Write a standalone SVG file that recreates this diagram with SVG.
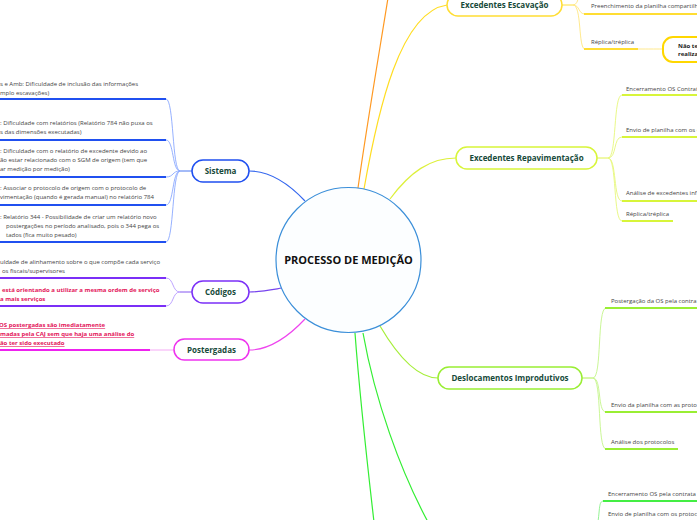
<svg xmlns="http://www.w3.org/2000/svg" width="697" height="520" viewBox="0 0 697 520">
<style>
.t{font-family:"Open Sans","Noto Sans",sans-serif;font-size:6px;fill:#444}
.r{font-family:"Open Sans","Noto Sans",sans-serif;font-size:6px;font-weight:bold;fill:#e3165b}
.ru{text-decoration:underline}
.n{font-family:"Open Sans","Noto Sans",sans-serif;font-size:8px;font-weight:bold;fill:#174a3a;text-anchor:middle}
.nb{fill:#fff;stroke-width:1.5}
.c{fill:none;stroke-width:1.2}
.cl{fill:none;stroke-width:0.9}
.u{fill:none;stroke-width:1.8}
</style>
<rect width="697" height="520" fill="#fff"/>
<g id="connectors">
  <!-- main branches -->
  <path class="c" stroke="#ff9922" stroke-width="1.6" d="M358,188 C366,130 378,60 388,-2"/>
  <path class="c" stroke="#ffdd22" d="M364,189 C378,110 400,12 447,5"/>
  <path class="c" stroke="#ddf03a" d="M390,199 C410,172 430,158 456,158"/>
  <path class="c" stroke="#a6ee3a" d="M380,326 C400,360 420,378 438,378"/>
  <path class="c" stroke="#33ee33" stroke-width="1.8" d="M355,333 C360,400 368,470 374,522"/>
  <path class="c" stroke="#33ee33" stroke-width="1.8" d="M363,333 C375,400 400,470 428,522"/>
  <path class="c" stroke="#3366ee" d="M305,201 C290,185 270,171 249,171"/>
  <path class="c" stroke="#7744ee" d="M282,288 C270,290 260,292 249,292"/>
  <path class="c" stroke="#ee44ee" d="M305,319 C290,335 270,350 249,350"/>
  <!-- Sistema children -->
  <path class="cl" stroke="#3366ee" d="M192,171 L180,171"/>
  <g stroke="#8aa8ff" class="cl">
    <path d="M180,171 C172,171 174,99 166,99"/>
    <path d="M180,171 C172,171 174,140 166,140"/>
    <path d="M180,171 C172,171 174,177 166,177"/>
    <path d="M180,171 C172,171 174,205 166,205"/>
    <path d="M180,171 C172,171 174,242 166,242"/>
  </g>
  <g stroke="#2050f0" class="u">
    <path d="M0,99 H166"/><path d="M0,140 H166"/><path d="M0,177 H166"/><path d="M0,205 H166"/><path d="M0,242 H166"/>
  </g>
  <!-- Codigos children -->
  <path class="cl" stroke="#7744ee" d="M192,292 L180,292"/>
  <g stroke="#b599ff" class="cl">
    <path d="M180,292 C172,292 174,278 166,278"/>
    <path d="M180,292 C172,292 174,306 166,306"/>
  </g>
  <g stroke="#7b2ff7" class="u">
    <path d="M0,278 H166"/><path d="M0,306 H166"/>
  </g>
  <!-- Postergadas child -->
  <path class="cl" stroke="#f4a0f4" d="M150,350 H174"/>
  <path class="u" stroke="#ee22ee" d="M0,350 H150"/>
  <!-- Escavacao children -->
  <path class="cl" stroke="#ffdd22" d="M562,5 H573"/>
  <g stroke="#ffe680" class="cl">
    <path d="M573,5 C580,5 578,-12 585,-14"/>
    <path d="M573,5 C580,5 578,14 585,14"/>
    <path d="M573,5 C582,5 578,49 585,49"/>
    <path d="M638,49 C650,49 652,49 663,49"/>
  </g>
  <g stroke="#ffdd33" class="u">
    <path d="M584,14 H697"/><path d="M584,49 H638"/>
  </g>
  <!-- Repavimentacao children -->
  <path class="cl" stroke="#ddf03a" d="M597,158 H608"/>
  <g stroke="#e6f77a" class="cl">
    <path d="M608,158 C617,158 613,95 622,95"/>
    <path d="M608,158 C617,158 613,137 622,137"/>
    <path d="M608,158 C617,158 613,201 622,201"/>
    <path d="M608,158 C617,158 613,221 622,221"/>
  </g>
  <g stroke="#d8f53a" class="u">
    <path d="M622,95 H697"/><path d="M622,137 H697"/><path d="M622,201 H697"/><path d="M622,221 H673"/>
  </g>
  <!-- Deslocamentos children -->
  <path class="cl" stroke="#a6ee3a" d="M582,378 H593"/>
  <g stroke="#c4f58a" class="cl">
    <path d="M593,378 C602,378 597,308 606,308"/>
    <path d="M593,378 C602,378 597,412 606,412"/>
    <path d="M593,378 C602,378 597,449 606,449"/>
  </g>
  <g stroke="#99ee33" class="u">
    <path d="M605,308 H697"/><path d="M605,412 H697"/><path d="M605,449 H678"/>
  </g>
  <!-- bottom right -->
  <path class="cl" stroke="#88f088" d="M598,522 C600,506 599,501 604,501"/>
  <path class="u" stroke="#44ee44" d="M603,501 H697"/>
</g>

<g id="center">
  <circle cx="348.5" cy="260" r="72.5" fill="#fcfeff" stroke="#3b8fd9" stroke-width="1.2"/>
  <text x="348.5" y="264" text-anchor="middle" font-family="'Open Sans','Noto Sans',sans-serif" font-size="11" font-weight="bold" fill="#111">PROCESSO DE MEDIÇÃO</text>
</g>

<g id="sistema">
  <rect class="nb" x="192" y="160" width="57" height="22" rx="11" stroke="#1f4ff0"/>
  <text class="n" x="220.5" y="174">Sistema</text>
</g>
<g id="codigos">
  <rect class="nb" x="192" y="281" width="57" height="22" rx="11" stroke="#7b2ff7"/>
  <text class="n" x="220.5" y="295">Códigos</text>
</g>
<g id="postergadas">
  <rect class="nb" x="174" y="339" width="75" height="21" rx="10.5" stroke="#ee33ee"/>
  <text class="n" x="211.5" y="352.5">Postergadas</text>
</g>
<g id="escavacao">
  <rect class="nb" x="447" y="-6" width="115" height="22" rx="11" stroke="#ffdd33"/>
  <text class="n" x="504.5" y="8">Excedentes Escavação</text>
</g>
<g id="repavimentacao">
  <rect class="nb" x="456" y="147" width="141" height="22" rx="11" stroke="#d8f53a"/>
  <text class="n" x="526.5" y="161">Excedentes Repavimentação</text>
</g>
<g id="deslocamentos">
  <rect class="nb" x="438" y="367" width="144" height="22" rx="11" stroke="#99ee33"/>
  <text class="n" x="510" y="381">Deslocamentos Improdutivos</text>
</g>
<g id="nao-te">
  <rect x="663" y="37" width="60" height="25" rx="10" fill="#fff" stroke="#ffd700" stroke-width="2"/>
  <text x="678" y="48" font-family="'Open Sans','Noto Sans',sans-serif" font-size="6" font-weight="bold" fill="#222">Não te</text>
  <text x="678" y="56" font-family="'Open Sans','Noto Sans',sans-serif" font-size="6" font-weight="bold" fill="#222">realiza</text>
</g>

<g id="sistema-items">
  <text class="t" x="0" y="86">s e Amb: Dificuldade de inclusão das informações</text>
  <text class="t" x="0" y="94.5">mplo escavações)</text>
  <text class="t" x="0" y="125">: Dificuldade com relatórios (Relatório 784 não puxa os</text>
  <text class="t" x="0" y="134">s das dimensões executadas)</text>
  <text class="t" x="0" y="153">: Dificuldade com o relatório de excedente devido ao</text>
  <text class="t" x="0" y="162">ão estar relacionado com o SGM de origem (tem que</text>
  <text class="t" x="0" y="171">ar medição por medição)</text>
  <text class="t" x="0" y="190">: Associar o protocolo de origem com o protocolo de</text>
  <text class="t" x="0" y="199">vimentação (quando é gerada manual) no relatório 784</text>
  <text class="t" x="0" y="219">: Relatório 344 - Possibilidade de criar um relatório novo</text>
  <text class="t" x="6" y="228">postergações no período analisado, pois o 344 pega os</text>
  <text class="t" x="6" y="237">tados (fica muito pesado)</text>
</g>
<g id="codigos-items">
  <text class="t" x="0" y="264">uldade de alinhamento sobre o que compõe cada serviço</text>
  <text class="t" x="2" y="273">os fiscais/supervisores</text>
  <text class="r" x="2" y="292">está orientando a utilizar a mesma ordem de serviço</text>
  <text class="r" x="0" y="300.5">a mais serviços</text>
</g>
<g id="postergadas-items">
  <text class="r ru" x="-1" y="327">OS postergadas são imediatamente</text>
  <text class="r ru" x="0" y="336">madas pela CAJ sem que haja uma análise do</text>
  <text class="r ru" x="0" y="345">ão ter sido executado</text>
</g>
<g id="right-items">
  <text class="t" x="591" y="8">Preenchimento da planilha compartilh</text>
  <text class="t" x="591" y="44">Réplica/tréplica</text>
  <text class="t" x="626" y="91">Encerramento OS Contrat</text>
  <text class="t" x="626" y="132">Envio de planilha com os e</text>
  <text class="t" x="626" y="195">Análise de excedentes inf</text>
  <text class="t" x="626" y="216">Réplica/tréplica</text>
  <text class="t" x="611" y="303">Postergação da OS pela contra</text>
  <text class="t" x="611" y="407">Envio da planilha com as proto</text>
  <text class="t" x="611" y="444">Análise dos protocolos</text>
  <text class="t" x="608" y="496">Encerramento OS pela contrata</text>
  <text class="t" x="608" y="516">Envio de planilha com os protoco</text>
</g>
</svg>
